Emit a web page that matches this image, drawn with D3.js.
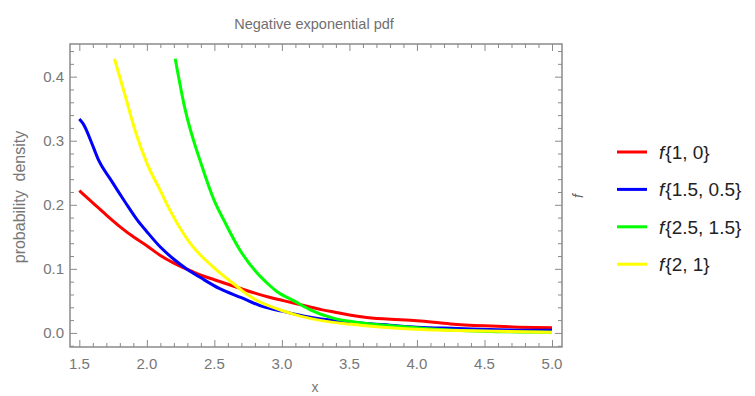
<!DOCTYPE html>
<html>
<head>
<meta charset="utf-8">
<script src="https://cdn.jsdelivr.net/npm/d3@7"></script>
<style>
  body { margin: 0; background: #fff; }
  svg { font-family: "Liberation Sans", Arial, sans-serif; }
</style>
</head>
<body>
<div id="chart"></div>
<script>
// values, [x, density]
const redPts = [[1.5,0.222],[1.6,0.203],[1.7,0.184],[1.8,0.166],[1.9,0.150],[2.0,0.136],[2.1,0.121],[2.2,0.109],
  [2.3,0.099],[2.4,0.090],[2.5,0.083],[2.6,0.076],[2.7,0.069],[2.8,0.062],[2.9,0.056],[3.0,0.051],[3.1,0.046],
  [3.2,0.041],[3.3,0.036],[3.4,0.032],[3.5,0.028],[3.6,0.025],[3.75,0.022],[4.0,0.019],[4.25,0.014],[4.5,0.011],
  [4.75,0.009],[5.0,0.008]];
const bluePts = [[1.5,0.334],[1.53,0.326],[1.6,0.292],[1.64,0.271],[1.73,0.240],[1.84,0.204],[1.93,0.176],[2.0,0.158],
  [2.1,0.134],[2.2,0.115],[2.3,0.099],[2.4,0.086],[2.54,0.069],[2.7,0.055],[2.86,0.041],[3.0,0.034],[3.2,0.025],
  [3.4,0.019],[3.6,0.015],[3.8,0.012],[4.0,0.009],[4.3,0.007],[4.6,0.005],[5.0,0.004]];
const greenPts = [[2.21,0.428],[2.28,0.352],[2.41,0.259],[2.5,0.206],[2.57,0.176],[2.69,0.129],[2.81,0.095],[2.91,0.074],
  [2.96,0.065],[3.09,0.050],[3.21,0.036],[3.38,0.023],[3.58,0.016],[3.88,0.010],[4.2,0.005],[4.6,0.002],[5.0,0.001]];
const yellowPts = [[1.76,0.428],[1.84,0.370],[1.91,0.318],[2.0,0.265],[2.1,0.222],[2.17,0.192],[2.32,0.140],[2.49,0.103],
  [2.67,0.072],[2.75,0.059],[2.84,0.048],[2.92,0.041],[3.0,0.035],[3.09,0.029],[3.33,0.018],[3.58,0.012],[3.88,0.007],
  [4.2,0.004],[4.5,0.003],[5.0,0.001]];

const seriesNames = ['{1, 0}', '{1.5, 0.5}', '{2.5, 1.5}', '{2, 1}'];
const seriesColors = ['#ff0000', '#0000ff', '#00ff00', '#ffff00'];
const seriesData = [redPts, bluePts, greenPts, yellowPts];

const xTicks = [1.5, 2.0, 2.5, 3.0, 3.5, 4.0, 4.5, 5.0];
const yTicks = [0.0, 0.1, 0.2, 0.3, 0.4];

const W = 755, H = 396;
const frame = { left: 70, right: 562, top: 44, bottom: 347 };

const svg = d3.select('#chart').append('svg')
  .attr('width', W).attr('height', H);

const x = d3.scaleLinear().domain([1.431, 5.074]).range([frame.left, frame.right]);
const y = d3.scaleLinear().domain([-0.022, 0.451]).range([frame.bottom, frame.top]);

const gray = '#8a8a8a';
const labelGray = '#777';

// curves
const line = d3.line().x(d => x(d[0])).y(d => y(d[1])).curve(d3.curveMonotoneX);
svg.append('g').selectAll('path')
  .data(seriesData)
  .enter().append('path')
  .attr('d', line)
  .attr('fill', 'none')
  .attr('stroke', (d, i) => seriesColors[i])
  .attr('stroke-width', 3)
  .attr('stroke-linejoin', 'round');

// frame with inward ticks on all sides
const xMinor = d3.range(15, 51).map(v => v / 10).filter(v => !xTicks.some(t => Math.abs(t - v) < 1e-9));
const yMinor = d3.range(-1, 23).map(v => v * 0.02).filter(v => v > -0.022 && v < 0.451 && !yTicks.some(t => Math.abs(t - v) < 1e-9));

const axisStyle = g => {
  g.select('.domain').remove();
  g.selectAll('line').attr('stroke', gray);
};

svg.append('g').attr('transform', `translate(0,${frame.bottom})`)
  .call(d3.axisTop(x).tickValues(xTicks).tickSize(7).tickFormat(''))
  .call(axisStyle);
svg.append('g').attr('transform', `translate(0,${frame.bottom})`)
  .call(d3.axisTop(x).tickValues(xMinor).tickSize(4).tickFormat(''))
  .call(axisStyle);
svg.append('g').attr('transform', `translate(0,${frame.top})`)
  .call(d3.axisBottom(x).tickValues(xTicks).tickSize(7).tickFormat(''))
  .call(axisStyle);
svg.append('g').attr('transform', `translate(0,${frame.top})`)
  .call(d3.axisBottom(x).tickValues(xMinor).tickSize(4).tickFormat(''))
  .call(axisStyle);
svg.append('g').attr('transform', `translate(${frame.left},0)`)
  .call(d3.axisRight(y).tickValues(yTicks).tickSize(7).tickFormat(''))
  .call(axisStyle);
svg.append('g').attr('transform', `translate(${frame.left},0)`)
  .call(d3.axisRight(y).tickValues(yMinor).tickSize(4).tickFormat(''))
  .call(axisStyle);
svg.append('g').attr('transform', `translate(${frame.right},0)`)
  .call(d3.axisLeft(y).tickValues(yTicks).tickSize(7).tickFormat(''))
  .call(axisStyle);
svg.append('g').attr('transform', `translate(${frame.right},0)`)
  .call(d3.axisLeft(y).tickValues(yMinor).tickSize(4).tickFormat(''))
  .call(axisStyle);

svg.append('rect')
  .attr('x', frame.left).attr('y', frame.top)
  .attr('width', frame.right - frame.left).attr('height', frame.bottom - frame.top)
  .attr('fill', 'none').attr('stroke', gray).attr('stroke-width', 1.5);

// tick labels
svg.append('g').selectAll('text')
  .data(xTicks).enter().append('text')
  .attr('x', d => x(d)).attr('y', 369)
  .attr('text-anchor', 'middle')
  .attr('fill', labelGray).style('font-size', '15px')
  .text(d3.format('.1f'));
svg.append('g').selectAll('text')
  .data(yTicks).enter().append('text')
  .attr('x', 64).attr('y', d => y(d) + 5)
  .attr('text-anchor', 'end')
  .attr('fill', labelGray).style('font-size', '15px')
  .text(d3.format('.1f'));

// title and axis labels
svg.append('text')
  .attr('x', 314).attr('y', 29)
  .attr('text-anchor', 'middle')
  .attr('fill', '#707070').style('font-size', '14.5px')
  .text('Negative exponential pdf');

svg.append('text')
  .attr('transform', 'translate(25,197) rotate(-90)')
  .attr('text-anchor', 'middle')
  .attr('fill', labelGray).style('font-size', '16px')
  .style('white-space', 'pre')
  .text('probability  density');

svg.append('text')
  .attr('x', 315).attr('y', 392)
  .attr('text-anchor', 'middle')
  .attr('fill', labelGray).style('font-size', '14px')
  .text('x');

svg.append('text')
  .attr('transform', 'translate(583,196) rotate(-90)')
  .attr('text-anchor', 'middle')
  .attr('fill', '#666').style('font-size', '14px').style('font-style', 'italic')
  .text('f');

// legend
const legend = svg.append('g').selectAll('g')
  .data(seriesNames).enter().append('g')
  .attr('transform', (d, i) => `translate(617,${152 + i * 37.4})`);
legend.append('line')
  .attr('x1', 0).attr('x2', 30)
  .attr('stroke', (d, i) => seriesColors[i]).attr('stroke-width', 3);
const lt = legend.append('text')
  .attr('x', 42).attr('y', 7)
  .attr('fill', '#222').style('font-size', '19px');
lt.append('tspan').style('font-style', 'italic').text('f');
lt.append('tspan').attr('dx', 1).text(d => d);
</script>
</body>
</html>
